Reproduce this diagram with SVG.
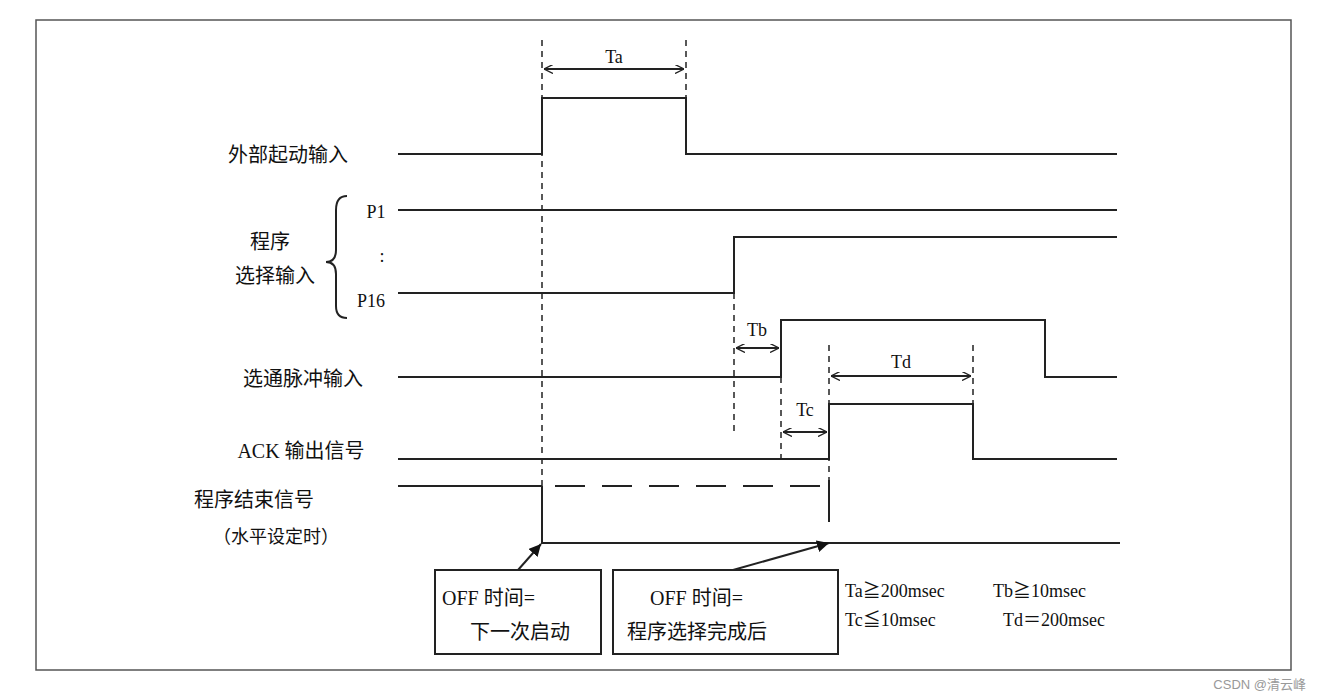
<svg xmlns="http://www.w3.org/2000/svg" width="1323" height="699" viewBox="0 0 1323 699">
<style>
.s{stroke:#222;stroke-width:2;fill:none}
.d{stroke:#222;stroke-width:1.5;fill:none;stroke-dasharray:6,5}
.t{font-family:"Liberation Serif","Noto Sans CJK SC",serif;font-size:20px;fill:#111}
.m{font-family:"Liberation Serif","Noto Sans CJK SC",serif;font-size:18px;fill:#111}
</style>
<defs>
<marker id="o" viewBox="0 0 10 10" refX="10" refY="5" markerWidth="9" markerHeight="9" orient="auto-start-reverse" markerUnits="userSpaceOnUse"><path d="M0,0 L10,5 L0,10" fill="none" stroke="#222" stroke-width="1.5"/></marker>
<marker id="f" viewBox="0 0 10 10" refX="10" refY="5" markerWidth="12" markerHeight="12" orient="auto" markerUnits="userSpaceOnUse"><path d="M0,0 L10,5 L0,10 z" fill="#111"/></marker>
</defs>
<rect width="1323" height="699" fill="#fff"/>
<rect x="36" y="20" width="1255" height="650" fill="none" stroke="#555" stroke-width="1.5"/>
<g id="labels">
<text class="t" x="288" y="162" text-anchor="middle">外部起动输入</text>
<text class="t" x="270" y="249" text-anchor="middle">程序</text>
<text class="t" x="275" y="283" text-anchor="middle">选择输入</text>
<text class="m" x="376" y="218" text-anchor="middle">P1</text>
<text class="m" x="382" y="262" text-anchor="middle">:</text>
<text class="m" x="371" y="307" text-anchor="middle">P16</text>
<path class="s" d="M347,196 Q336,196 336,210 L336,250 Q336,262 326,262 Q336,262 336,274 L336,306 Q336,318 347,318" stroke-width="1.5"/>
<text class="t" x="303" y="386" text-anchor="middle">选通脉冲输入</text>
<text class="t" x="301" y="458" text-anchor="middle">ACK 输出信号</text>
<text class="t" x="254" y="507" text-anchor="middle">程序结束信号</text>
<text class="m" x="276" y="543" text-anchor="middle">（水平设定时）</text>
</g>
<g id="connectors">
<line class="d" x1="542" y1="40" x2="542" y2="486"/>
<line class="d" x1="686" y1="40" x2="686" y2="154"/>
<line class="d" x1="734" y1="293" x2="734" y2="432"/>
<line class="d" x1="781" y1="377" x2="781" y2="460"/>
<line class="d" x1="829" y1="345" x2="829" y2="486"/>
<line class="d" x1="973" y1="345" x2="973" y2="404"/>
<line class="s" x1="544" y1="69" x2="684" y2="69" stroke-width="1.5" marker-start="url(#o)" marker-end="url(#o)"/>
<line class="s" x1="736" y1="348" x2="779" y2="348" stroke-width="1.5" marker-start="url(#o)" marker-end="url(#o)"/>
<line class="s" x1="783" y1="432" x2="827" y2="432" stroke-width="1.5" marker-start="url(#o)" marker-end="url(#o)"/>
<line class="s" x1="831" y1="376" x2="971" y2="376" stroke-width="1.5" marker-start="url(#o)" marker-end="url(#o)"/>
<text class="m" x="614" y="63" text-anchor="middle">Ta</text>
<text class="m" x="757" y="336" text-anchor="middle">Tb</text>
<text class="m" x="805" y="416" text-anchor="middle">Tc</text>
<text class="m" x="901" y="368" text-anchor="middle">Td</text>
<path class="s" d="M398,154 H542 V98 H686 V154 H1117"/>
<path class="s" d="M398,210 H1117"/>
<path class="s" d="M398,293 H734 V237 H1117"/>
<path class="s" d="M398,377 H781 V320 H1045 V377 H1117"/>
<path class="s" d="M398,459 H829 V404 H973 V459 H1117"/>
<path class="s" d="M398,486 H542"/>
<path class="s" d="M555,486 H820" stroke-dasharray="30,17"/>
<path class="s" d="M542,486 V543 H1120"/>
<path class="s" d="M829,480 V522"/>
<line class="s" x1="518" y1="570" x2="541" y2="544" stroke-width="1.5" marker-end="url(#f)"/>
<line class="s" x1="733" y1="570" x2="829" y2="543" stroke-width="1.5" marker-end="url(#f)"/>
</g>
<g id="box1">
<rect class="s" x="435" y="570" width="166" height="84"/>
<text class="t" x="442" y="605">OFF 时间=</text>
<text class="t" x="470" y="639">下一次启动</text>
</g>
<g id="box2">
<rect class="s" x="613" y="570" width="225" height="84"/>
<text class="t" x="650" y="605">OFF 时间=</text>
<text class="t" x="627" y="639">程序选择完成后</text>
</g>
<g id="notes">
<text class="m" x="845" y="597">Ta≧200msec</text>
<text class="m" x="993" y="597">Tb≧10msec</text>
<text class="m" x="845" y="626">Tc≦10msec</text>
<text class="m" x="1003" y="626">Td＝200msec</text>
</g>
<text x="1306" y="689" text-anchor="end" font-family="Liberation Sans,Noto Sans CJK SC,sans-serif" font-size="13" fill="#999">CSDN @清云峰</text>
</svg>
